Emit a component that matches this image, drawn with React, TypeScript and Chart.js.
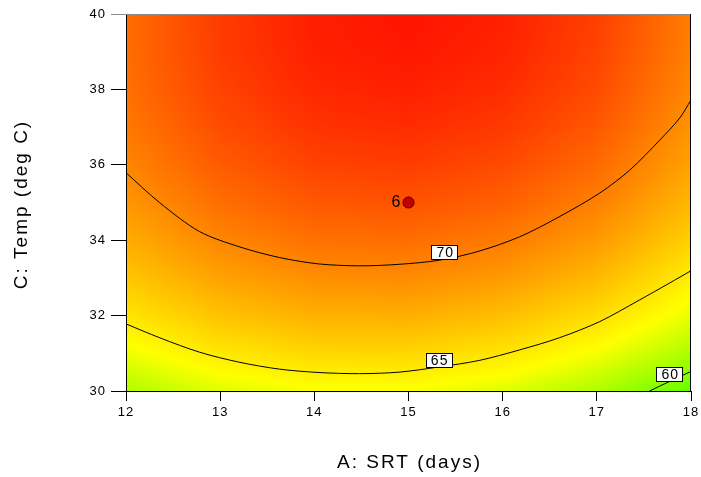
import React, { useEffect, useRef } from "react";
import { Chart, registerables } from "chart.js";
Chart.register(...registerables);

// Axis ticks
const srtTicks = [12, 13, 14, 15, 16, 17, 18];
const tempTicks = [30, 32, 34, 36, 38, 40];

// Response surface grid
const gridSRT = [12, 13, 14, 15, 16, 17, 18];
const gridTemp = [30, 31, 32, 33, 34, 35, 36, 37, 38, 39, 40];
const resp12 = [61.46, 63.5, 65.29, 66.87, 68.2, 69.32, 70.2, 70.84, 71.26, 71.44, 71.4];
const resp13 = [63.02, 65.16, 67.06, 68.73, 70.17, 71.39, 72.37, 73.12, 73.63, 73.92, 73.98];
const resp14 = [63.8, 66.01, 67.99, 69.74, 71.25, 72.55, 73.6, 74.42, 75.01, 75.38, 75.51];
const resp15 = [63.8, 66.06, 68.08, 69.88, 71.44, 72.78, 73.88, 74.75, 75.39, 75.8, 75.98];
const resp16 = [63.02, 65.3, 67.34, 69.16, 70.74, 72.1, 73.22, 74.12, 74.78, 75.21, 75.41];
const resp17 = [61.46, 63.73, 65.77, 67.58, 69.16, 70.51, 71.62, 72.51, 73.16, 73.59, 73.78];
const resp18 = [59.12, 61.36, 63.36, 64.84, 66.38, 67.65, 68.7, 69.5, 70.1, 70.5, 70.65];
const responseGrid = [resp12, resp13, resp14, resp15, resp16, resp17, resp18];

// Contour lines
const contour70SRT = [12.0, 12.36, 12.78, 13.21, 13.63, 14.05, 14.48, 14.9, 15.33, 15.75, 16.18, 16.6, 17.03, 17.35, 17.67, 17.88, 18.0];
const contour70Temp = [35.79, 34.99, 34.23, 33.82, 33.54, 33.37, 33.32, 33.36, 33.47, 33.71, 34.09, 34.62, 35.25, 35.86, 36.66, 37.24, 37.72];
const contour65SRT = [12.0, 12.36, 12.78, 13.21, 13.63, 14.05, 14.48, 14.9, 15.33, 15.75, 16.18, 16.6, 17.03, 17.45, 17.77, 18.0];
const contour65Temp = [31.78, 31.41, 31.03, 30.76, 30.58, 30.49, 30.46, 30.5, 30.64, 30.81, 31.09, 31.41, 31.84, 32.41, 32.86, 33.19];
const contour60SRT = [17.56, 17.77, 18.0];
const contour60Temp = [30.0, 30.25, 30.52];

// Contour labels
const labelText = ["70", "65", "60"];
const labelSRT = [15.38, 15.32, 17.77];
const labelTemp = [33.69, 30.82, 30.45];

// Design point
const designSRT = [15];
const designTemp = [35];
const designLabel = ["6"];

const FONT = '"Liberation Sans", Arial, sans-serif';

function colorFor(v: number): [number, number, number] {
  if (v <= 64) {
    const f = Math.max(0, Math.min(1, (v - 56) / 8));
    return [Math.round(255 * f), 255, 0];
  }
  const f = Math.max(0, Math.min(1, (77 - v) / 13));
  return [255, Math.round(255 * f), 0];
}

function gridValue(sx: number, ty: number): number {
  const n = gridSRT.length, m = gridTemp.length;
  let fi = (sx - gridSRT[0]) / (gridSRT[1] - gridSRT[0]);
  let fj = (ty - gridTemp[0]) / (gridTemp[1] - gridTemp[0]);
  fi = Math.max(0, Math.min(n - 1, fi));
  fj = Math.max(0, Math.min(m - 1, fj));
  const i0 = Math.min(n - 2, Math.floor(fi)), j0 = Math.min(m - 2, Math.floor(fj));
  const a = fi - i0, b = fj - j0;
  const v00 = responseGrid[i0][j0], v10 = responseGrid[i0 + 1][j0];
  const v01 = responseGrid[i0][j0 + 1], v11 = responseGrid[i0 + 1][j0 + 1];
  return v00 * (1 - a) * (1 - b) + v10 * a * (1 - b) + v01 * (1 - a) * b + v11 * a * b;
}

const surfacePlugin = {
  id: "surface",
  beforeDraw(chart: any) {
    const { ctx, chartArea, scales } = chart;
    ctx.letterSpacing = "1px";
    const xs = scales.x, ys = scales.y;
    const L = Math.floor(chartArea.left), T = Math.floor(chartArea.top);
    const W = Math.ceil(chartArea.right) - L, H = Math.ceil(chartArea.bottom) - T;
    const off = document.createElement("canvas");
    off.width = W; off.height = H;
    const octx = off.getContext("2d")!;
    const img = octx.createImageData(W, H);
    for (let py = 0; py < H; py++) {
      const tv = ys.getValueForPixel(T + py + 0.5);
      for (let px = 0; px < W; px++) {
        const sv = xs.getValueForPixel(L + px + 0.5);
        const [r, g, b] = colorFor(gridValue(sv, tv));
        const k = (py * W + px) * 4;
        img.data[k] = r; img.data[k + 1] = g; img.data[k + 2] = b; img.data[k + 3] = 255;
      }
    }
    octx.putImageData(img, 0, 0);
    ctx.save();
    ctx.drawImage(off, L, T);
    ctx.restore();
  },
  afterDraw(chart: any) {
    const { ctx, chartArea, scales } = chart;
    const xs = scales.x, ys = scales.y;
    ctx.save();
    // top and right borders
    ctx.lineWidth = 1;
    ctx.strokeStyle = "#8a8a8a";
    ctx.beginPath();
    ctx.moveTo(chartArea.left - 15, chartArea.top + 0.5);
    ctx.lineTo(chartArea.right, chartArea.top + 0.5);
    ctx.stroke();
    ctx.strokeStyle = "#000";
    ctx.beginPath();
    ctx.moveTo(chartArea.right - 0.5, chartArea.top);
    ctx.lineTo(chartArea.right - 0.5, chartArea.bottom);
    ctx.stroke();

    // contour labels
    ctx.font = `14px ${FONT}`;
    ctx.letterSpacing = "1px";
    ctx.textAlign = "center";
    ctx.textBaseline = "middle";
    for (let i = 0; i < labelText.length; i++) {
      const cx = xs.getPixelForValue(labelSRT[i]);
      const cy = ys.getPixelForValue(labelTemp[i]);
      const w = 26, h = 14;
      ctx.fillStyle = "#fff";
      ctx.fillRect(Math.round(cx - w / 2) + 0.5, Math.round(cy - h / 2) + 0.5, w, h);
      ctx.strokeStyle = "#000";
      ctx.strokeRect(Math.round(cx - w / 2) + 0.5, Math.round(cy - h / 2) + 0.5, w, h);
      ctx.fillStyle = "#000";
      ctx.fillText(labelText[i], cx + 1, cy + 1);
    }

    // design point label
    ctx.font = `16px ${FONT}`;
    ctx.textAlign = "right";
    for (let i = 0; i < designLabel.length; i++) {
      const px = xs.getPixelForValue(designSRT[i]);
      const py = ys.getPixelForValue(designTemp[i]);
      ctx.fillStyle = "#000";
      ctx.fillText(designLabel[i], px - 7, py);
    }

    // axis titles
    ctx.font = `19px ${FONT}`;
    ctx.letterSpacing = "2px";
    ctx.fillStyle = "#000";
    ctx.textAlign = "center";
    ctx.textBaseline = "middle";
    ctx.fillText("A: SRT (days)", (chartArea.left + chartArea.right) / 2 + 1, 463);
    ctx.translate(22, (chartArea.top + chartArea.bottom) / 2 + 2);
    ctx.rotate(-Math.PI / 2);
    ctx.fillText("C: Temp (deg C)", 0, 0);
    ctx.restore();
  },
};

const toPts = (xs: number[], ys: number[]) => xs.map((x, i) => ({ x, y: ys[i] }));

const zeroPad = (s: any) => {
  s.paddingLeft = 0; s.paddingRight = 0; s.paddingTop = 0; s.paddingBottom = 0;
};

export default function App() {
  const ref = useRef<HTMLCanvasElement | null>(null);
  useEffect(() => {
    document.body.style.margin = "0";
    if (!ref.current) return;
    const lineDs = (xs: number[], ys: number[]) => ({
      data: toPts(xs, ys),
      showLine: true,
      borderColor: "#000",
      borderWidth: 1,
      pointRadius: 0,
      tension: 0.3,
      fill: false,
    });
    const chart = new Chart(ref.current, {
      type: "scatter",
      data: {
        datasets: [
          lineDs(contour70SRT, contour70Temp),
          lineDs(contour65SRT, contour65Temp),
          lineDs(contour60SRT, contour60Temp),
          {
            data: toPts(designSRT, designTemp),
            pointRadius: 5.5,
            pointStyle: "circle",
            backgroundColor: "#c00000",
            borderColor: "#3a0000",
            borderWidth: 1,
          },
        ],
      },
      options: {
        animation: false,
        responsive: false,
        maintainAspectRatio: false,
        layout: { padding: { left: 0, right: 10, top: 14, bottom: 0 } },
        plugins: { legend: { display: false }, tooltip: { enabled: false } },
        scales: {
          x: {
            type: "linear",
            min: 12,
            max: 18,
            afterBuildTicks: (s: any) => { s.ticks = srtTicks.map((v) => ({ value: v })); },
            afterFit: (s: any) => { s.height = 86; zeroPad(s); },
            ticks: { color: "#000", font: { family: FONT, size: 13 }, padding: 4, maxRotation: 0 },
            grid: { display: true, drawOnChartArea: false, drawTicks: true, tickLength: 10, tickColor: "#000" },
            border: { display: true, color: "#000", width: 1 },
          },
          y: {
            type: "linear",
            min: 30,
            max: 40,
            afterBuildTicks: (s: any) => { s.ticks = tempTicks.map((v) => ({ value: v })); },
            afterFit: (s: any) => { s.width = 126; zeroPad(s); },
            ticks: { color: "#000", font: { family: FONT, size: 13 }, padding: 5 },
            grid: { display: true, drawOnChartArea: false, drawTicks: true, tickLength: 15, tickColor: "#000" },
            border: { display: true, color: "#000", width: 1 },
          },
        },
      },
      plugins: [surfacePlugin],
    } as any);
    return () => chart.destroy();
  }, []);
  return (
    <div style={{ width: 701, height: 477 }}>
      <canvas ref={ref} width={701} height={477} style={{ display: "block" }} />
    </div>
  );
}
